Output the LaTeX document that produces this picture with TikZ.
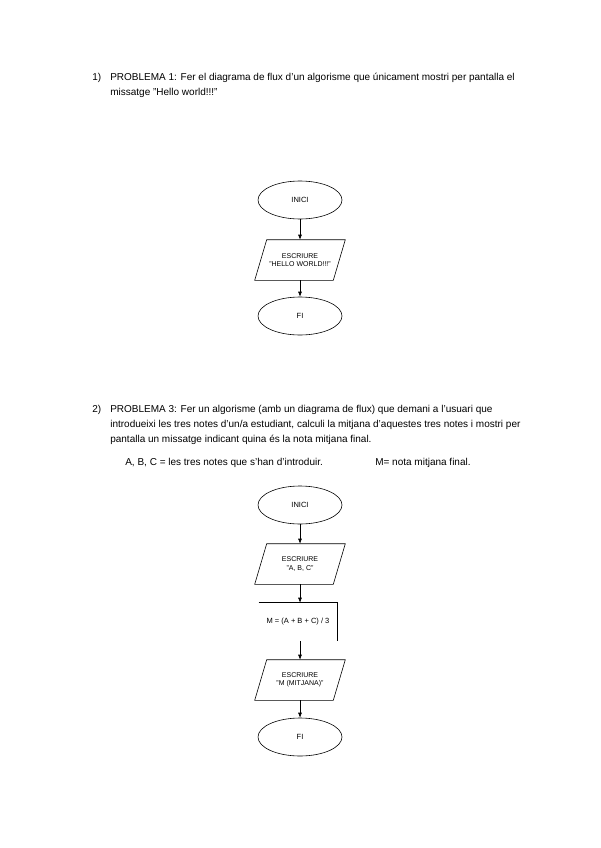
\documentclass[tikz,border=0pt]{standalone}
\usepackage{fontspec}
\setmainfont{Liberation Sans}
\usetikzlibrary{arrows.meta,shapes.geometric}

\begin{document}
\begin{tikzpicture}[x=1pt,y=-1pt,font=\fontsize{10}{12}\selectfont, line width=0.6pt, txt/.style={anchor=base west,inner sep=0pt}, term/.style={draw,ellipse,minimum width=84pt,minimum height=38pt,inner sep=0pt,font=\fontsize{7.5}{8}\selectfont}, io/.style={minimum width=78pt,minimum height=40pt,inner sep=1pt,align=center,font=\fontsize{7}{8.5}\selectfont}, proc/.style={minimum width=78pt,minimum height=38pt,inner sep=0pt,font=\fontsize{7.5}{8}\selectfont}, arrow/.style={-{Latex[length=5pt,width=4pt]}}]
\useasboundingbox[fill=white] (0,0) rectangle (600,848);
% problema 1
\node[txt] (num1) at (92,81) {1)};
\node[txt] (enunc1a) at (110,81) {PROBLEMA 1: Fer el diagrama de flux d’un algorisme que únicament mostri per pantalla el};
\node[txt] (enunc1b) at (110,96) {missatge "Hello world!!!"};
\node[term] (inici1) at (300,200) {INICI};
\node[io] (escriure1) at (300,260) {ESCRIURE\\"HELLO WORLD!!!"};
\draw ([xshift=6pt]escriure1.north west)--([xshift=6pt]escriure1.north east)--([xshift=-6pt]escriure1.south east)--([xshift=-6pt]escriure1.south west)--cycle;
\node[term] (fi1) at (300,316) {FI};
\draw[arrow] (inici1)--(escriure1);\draw[arrow] (escriure1)--(fi1);
% problema 2
\node[txt] (num2) at (92,412) {2)};
\node[txt] (enunc2a) at (110,412) {PROBLEMA 3: Fer un algorisme (amb un diagrama de flux) que demani a l’usuari que};
\node[txt] (enunc2b) at (110,427) {introdueixi les tres notes d’un/a estudiant, calculi la mitjana d’aquestes tres notes i mostri per};
\node[txt] (enunc2c) at (110,442) {pantalla un missatge indicant quina és la nota mitjana final.};
\node[txt] (vars) at (125,465) {A, B, C = les tres notes que s’han d’introduir.};
\node[txt] (mitjana) at (375,465) {M= nota mitjana final.};
\node[term] (inici2) at (300,505) {INICI};
\node[io] (llegir2) at (300,564) {ESCRIURE\\"A, B, C"};
\draw ([xshift=6pt]llegir2.north west)--([xshift=6pt]llegir2.north east)--([xshift=-6pt]llegir2.south east)--([xshift=-6pt]llegir2.south west)--cycle;
\node[proc] (calc2) at (298,622) {M = (A + B + C) / 3};
\draw (calc2.north west)--(calc2.north east)--(calc2.south east);
\node[io] (escriure2) at (300,680) {ESCRIURE\\"M (MITJANA)"};
\draw ([xshift=6pt]escriure2.north west)--([xshift=6pt]escriure2.north east)--([xshift=-6pt]escriure2.south east)--([xshift=-6pt]escriure2.south west)--cycle;
\node[term] (fi2) at (300,737) {FI};
\draw[arrow] (inici2)--(llegir2);\draw[arrow] (llegir2)--(calc2.north -| llegir2);\draw[arrow] (calc2.south -| escriure2)--(escriure2);\draw[arrow] (escriure2)--(fi2);
\end{tikzpicture}
\end{document}
